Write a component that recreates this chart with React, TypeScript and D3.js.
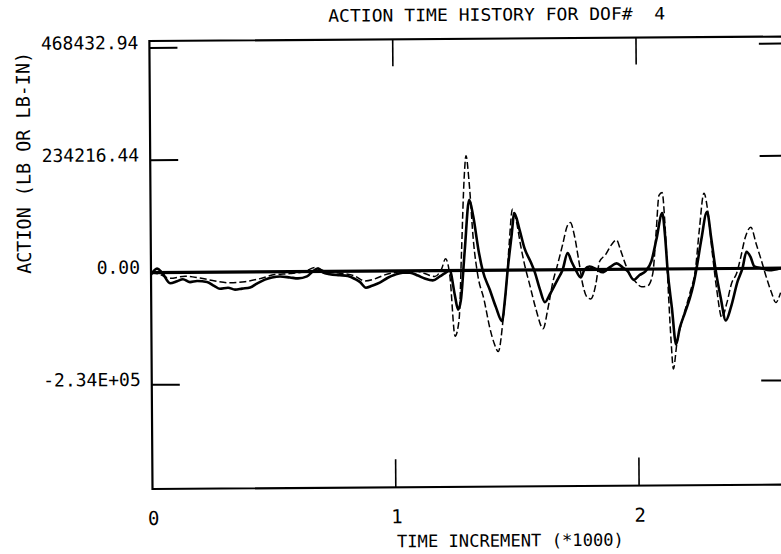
import React from 'react';
import * as d3 from 'd3';

const W = 781;
const H = 554;

const title = 'ACTION TIME HISTORY FOR DOF#  4';
const xTitle = 'TIME INCREMENT (*1000)';
const yTitle = 'ACTION (LB OR LB-IN)';

const xTicks = [0, 1, 2];
const xTickLabels = ['0', '1', '2'];
const yTicks = [468432.94, 234216.44, 0, -234216.44];
const yTickLabels = ['468432.94', '234216.44', '0.00', '-2.34E+05'];

// time increment (*1000) and action for the solid trace
const solidT = [
  0.000, 0.025, 0.045, 0.078, 0.107, 0.131, 0.160, 0.189, 0.230, 0.259, 0.283, 0.316, 0.345, 0.374,
  0.407, 0.435, 0.468, 0.497, 0.530, 0.571, 0.604, 0.641, 0.665, 0.686, 0.706, 0.735, 0.776, 0.809,
  0.838, 0.858, 0.883, 0.908, 0.940, 0.973, 1.002, 1.035, 1.064, 1.097, 1.125, 1.158, 1.187, 1.207,
  1.228, 1.248, 1.261, 1.273, 1.290, 1.310, 1.326, 1.347, 1.363, 1.392, 1.417, 1.441, 1.454, 1.466,
  1.483, 1.495, 1.515, 1.536, 1.561, 1.577, 1.598, 1.618, 1.639, 1.671, 1.692, 1.713, 1.729, 1.745,
  1.766, 1.782, 1.803, 1.832, 1.856, 1.885, 1.914, 1.938, 1.959, 1.984, 2.008, 2.033, 2.057, 2.078,
  2.103, 2.115, 2.123, 2.140, 2.156, 2.172, 2.193, 2.214, 2.230, 2.242, 2.263, 2.287, 2.304, 2.320,
  2.341, 2.361, 2.382, 2.411, 2.431, 2.448, 2.464, 2.480, 2.509, 2.542, 2.587,
];
const solidV = [
  -4100, 8200, 0, -22500, -18400, -14300, -20500, -18400, -20500, -28600, -34800, -32700, -36800, -34800,
  -32700, -24500, -16400, -12300, -10200, -12300, -14300, -10200, 0, 6100, -2000, -6100, -8200, -10200,
  -16400, -22500, -34800, -30700, -24500, -14300, -8200, -4100, -4100, -10200, -16400, -20500, -12300, -6100,
  0, -51100, -81800, -61400, 40900, 147300, 112500, 40900, 0, -40900, -77700, -106400, -61400, 0,
  71600, 118600, 85900, 45000, 16400, -4100, -40900, -67500, -51100, -20500, 0, 34800, 16400, 0,
  -16400, 0, 6100, 0, -6100, 4100, 12300, 4100, -4100, -22500, -12300, -4100, 16400, 61400,
  116600, 61400, 0, -81800, -157500, -122700, -92100, -61400, -30700, 0, 61400, 118600, 61400, 0,
  -61400, -108400, -81800, -26600, 0, 34800, 24500, 4100, 0, -4100, 0,
];

// time increment (*1000) and action for the dashed trace
const dashT = [
  0.000, 0.037, 0.078, 0.140, 0.201, 0.263, 0.324, 0.386, 0.448, 0.509, 0.571, 0.632, 0.674, 0.715,
  0.776, 0.838, 0.879, 0.920, 0.961, 1.023, 1.084, 1.125, 1.166, 1.195, 1.211, 1.228, 1.248, 1.265,
  1.277, 1.290, 1.298, 1.310, 1.326, 1.343, 1.368, 1.392, 1.409, 1.425, 1.446, 1.462, 1.474, 1.487,
  1.503, 1.520, 1.536, 1.556, 1.581, 1.610, 1.630, 1.651, 1.671, 1.692, 1.713, 1.725, 1.741, 1.758,
  1.774, 1.791, 1.807, 1.828, 1.844, 1.869, 1.893, 1.914, 1.930, 1.946, 1.967, 1.992, 2.016, 2.041,
  2.062, 2.078, 2.090, 2.103, 2.115, 2.127, 2.136, 2.144, 2.160, 2.185, 2.214, 2.238, 2.255, 2.275,
  2.292, 2.308, 2.324, 2.345, 2.366, 2.386, 2.407, 2.423, 2.444, 2.467, 2.488, 2.509, 2.530, 2.550,
  2.567, 2.587,
];
const dashV = [
  0, -4100, -12300, -8200, -12300, -18400, -22500, -20500, -14300, -6100, -4100, 0, 8200, 0,
  -4100, -10200, -20500, -16400, -8200, -2000, 0, -6100, -12300, 4100, 24500, -10200, -137100, -102300,
  40900, 194300, 239300, 184100, 61400, -10200, -61400, -122700, -153400, -169800, -102300, -20500, 61400, 126800,
  102300, 51100, 10200, -30700, -81800, -122700, -81800, -26600, 10200, 51100, 92100, 98200, 71600, 20500,
  -30700, -57300, -61400, -30700, 16400, 30700, 51100, 61400, 40900, 16400, -10200, -26600, -36800, -34800,
  -10200, 81800, 153400, 159600, 81800, -61400, -153400, -208700, -153400, -102300, -51100, 0, 81800, 157500,
  112500, 30700, -40900, -102300, -71600, -30700, -10200, 20500, 65500, 85900, 51100, 16400, -20500, -51100,
  -71600, -51100,
];

const xMax = 2.62;
const yMin = -451500;
const yMax = 483000;

const x = d3.scaleLinear().domain([0, xMax]).range([151, 151 + 243.3 * xMax]);
const y = d3.scaleLinear().domain([yMin, yMax]).range([489, 41]);

const font = '"DejaVu Sans Mono", monospace';

export default function App() {
  const solidPath = d3.line<number>()
    .x((_, i) => x(solidT[i]))
    .y(d => y(d))
    .curve(d3.curveMonotoneX)(solidV);
  const dashPath = d3.line<number>()
    .x((_, i) => x(dashT[i]))
    .y(d => y(d))
    .curve(d3.curveMonotoneX)(dashV);

  const [x0, x1] = x.range();
  const [yb, yt] = y.range();
  const tickLen = 28;

  return (
    <svg width={W} height={H} style={{ position: 'absolute', left: 0, top: 0, background: '#fff' }}>
      <g transform={`rotate(-0.4, ${x0}, ${y(0)})`}>
        {/* frame */}
        <rect x={x0} y={yt} width={x1 - x0} height={yb - yt} fill="none" stroke="#000" strokeWidth={2.2} />
        {/* zero line */}
        <line x1={x0} x2={x1} y1={y(0)} y2={y(0)} stroke="#000" strokeWidth={3.2} />

        {/* y ticks both sides */}
        {yTicks.map((t, i) => (
          <g key={'yt' + i}>
            <line x1={x0} x2={x0 + tickLen} y1={y(t)} y2={y(t)} stroke="#000" strokeWidth={2} />
            <line x1={x1} x2={x1 - tickLen} y1={y(t)} y2={y(t)} stroke="#000" strokeWidth={2} />
            <text x={140} y={y(t) + 1} textAnchor="end" fontFamily={font} fontSize={18} fill="#000">
              {yTickLabels[i]}
            </text>
          </g>
        ))}

        {/* x ticks top and bottom */}
        {xTicks.map((t, i) => (
          <g key={'xt' + i}>
            {t > 0 && (
              <>
                <line x1={x(t)} x2={x(t)} y1={yt} y2={yt + 27} stroke="#000" strokeWidth={1.6} />
                <line x1={x(t)} x2={x(t)} y1={yb} y2={yb - 28} stroke="#000" strokeWidth={1.6} />
              </>
            )}
            <text x={x(t) + 1} y={525} textAnchor="middle" fontFamily={font} fontSize={19} fill="#000">
              {xTickLabels[i]}
            </text>
          </g>
        ))}

        {/* traces */}
        <path d={dashPath ?? ''} fill="none" stroke="#000" strokeWidth={1.5} strokeDasharray="7,3" />
        <path d={solidPath ?? ''} fill="none" stroke="#000" strokeWidth={2.6} strokeLinejoin="round" />

        {/* titles */}
        <text x={330} y={23} fontFamily={font} fontSize={17} textLength={337} lengthAdjust="spacingAndGlyphs"
          style={{ whiteSpace: 'pre' }} fill="#000">
          {title}
        </text>
        <text x={395} y={549} fontFamily={font} fontSize={17} textLength={227} lengthAdjust="spacingAndGlyphs"
          fill="#000">
          {xTitle}
        </text>
        <text transform={`translate(31, 162) rotate(-90)`} textAnchor="middle" fontFamily={font} fontSize={19}
          textLength={222} lengthAdjust="spacingAndGlyphs" fill="#000">
          {yTitle}
        </text>
      </g>
    </svg>
  );
}
